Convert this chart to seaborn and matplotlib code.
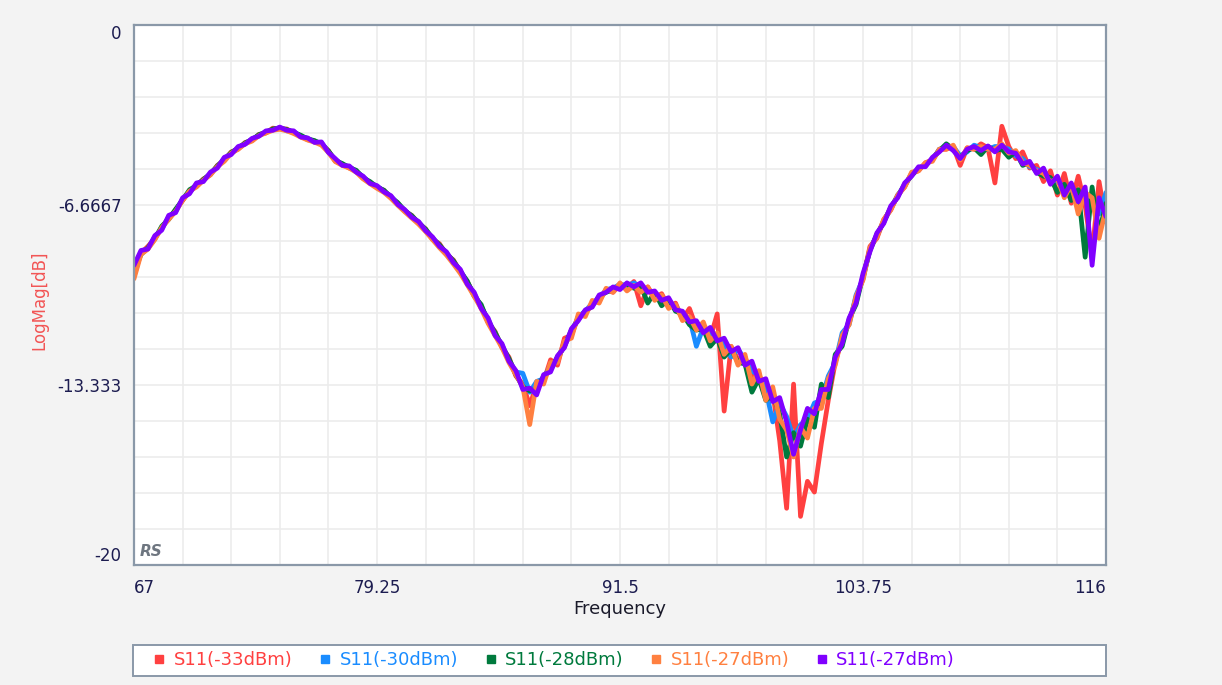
import matplotlib
matplotlib.use("Agg")
import matplotlib.pyplot as plt
from matplotlib.lines import Line2D
from matplotlib.patches import Rectangle
import numpy as np
import pandas as pd
import seaborn as sns

# Sweep: 67 .. 116 MHz, 141 points per trace.
freq = np.linspace(67, 116, 141)

s11_m33 = [
    -9.3, -8.45, -8.2, -7.9, -7.5, -7.15, -6.85, -6.5, -6.15, -5.95,
    -5.7, -5.55, -5.2, -5.0, -4.7, -4.6, -4.35, -4.28, -4.05, -4.0,
    -3.82, -3.85, -3.85, -4.0, -4.1, -4.25, -4.3, -4.4, -4.65, -5.05,
    -5.15, -5.3, -5.4, -5.68, -5.82, -6.02, -6.12, -6.4, -6.6, -6.9,
    -7.05, -7.35, -7.55, -7.95, -8.1, -8.5, -8.7, -9.15, -9.5, -10.0,
    -10.4, -11.0, -11.35, -11.95, -12.3, -13.0, -13.3, -14.1, -13.3, -13.2,
    -12.4, -12.6, -11.6, -11.5, -10.8, -10.7, -10.3, -10.2, -9.8, -9.9,
    -9.6, -9.75, -9.5, -10.4, -9.7, -10.1, -9.95, -10.45, -10.3, -10.9,
    -10.5, -11.2, -11.1, -11.6, -10.7, -14.3, -11.9, -12.4, -12.3, -13.0,
    -12.9, -13.8, -13.6, -15.4, -17.9, -13.3, -18.2, -16.9, -17.3, -15.5,
    -13.9, -12.5, -11.6, -11.0, -10.1, -9.4, -8.2, -7.9, -7.2, -6.85,
    -6.3, -6.0, -5.5, -5.4, -5.1, -5.0, -4.6, -4.6, -4.5, -5.2,
    -4.55, -4.6, -4.4, -4.55, -5.85, -3.75, -4.5, -4.95, -4.7, -5.3,
    -5.2, -5.8, -5.4, -6.3, -5.5, -6.6, -5.6, -6.7, -8.5, -5.8,
    -7.3,
]

s11_m30 = [
    -9.15, -8.4, -8.28, -7.85, -7.55, -7.1, -6.9, -6.45, -6.2, -5.9,
    -5.75, -5.5, -5.25, -4.95, -4.75, -4.55, -4.4, -4.22, -4.1, -3.95,
    -3.88, -3.8, -3.92, -3.95, -4.12, -4.2, -4.32, -4.36, -4.7, -4.98,
    -5.18, -5.25, -5.42, -5.62, -5.85, -5.97, -6.15, -6.35, -6.62, -6.86,
    -7.1, -7.3, -7.6, -7.88, -8.18, -8.45, -8.78, -9.1, -9.55, -9.95,
    -10.45, -10.9, -11.45, -11.85, -12.4, -12.85, -12.9, -13.6, -13.2, -13.1,
    -12.6, -12.4, -11.8, -11.4, -10.8, -10.6, -10.3, -10.15, -9.8, -9.75,
    -9.6, -9.65, -9.55, -9.7, -9.8, -10.0, -10.1, -10.25, -10.4, -10.8,
    -10.85, -11.9, -11.2, -11.5, -11.5, -11.9, -12.3, -12.0, -12.4, -12.8,
    -13.0, -13.5, -14.7, -14.0, -14.5, -15.3, -14.8, -14.6, -14.0, -13.9,
    -13.0, -12.5, -11.4, -11.1, -10.0, -9.4, -8.3, -7.8, -7.25, -6.8,
    -6.3, -5.95, -5.5, -5.35, -5.15, -5.0, -4.6, -4.55, -4.5, -4.85,
    -4.7, -4.45, -4.55, -4.6, -4.5, -4.5, -4.6, -4.85, -4.95, -5.25,
    -5.35, -5.45, -5.75, -5.8, -6.0, -6.1, -6.3, -6.4, -6.7, -7.0,
    -6.2,
]

s11_m28 = [
    -9.1, -8.5, -8.25, -7.92, -7.45, -7.2, -6.82, -6.48, -6.1, -5.95,
    -5.72, -5.52, -5.22, -5.0, -4.72, -4.57, -4.37, -4.25, -4.06, -3.98,
    -3.85, -3.82, -3.87, -3.98, -4.08, -4.22, -4.28, -4.42, -4.66, -5.02,
    -5.13, -5.28, -5.38, -5.66, -5.8, -6.0, -6.12, -6.38, -6.58, -6.88,
    -7.06, -7.33, -7.56, -7.9, -8.14, -8.46, -8.73, -9.12, -9.48, -10.05,
    -10.35, -11.0, -11.38, -11.9, -12.35, -12.95, -13.4, -13.55, -13.5, -13.0,
    -12.75, -12.3, -11.9, -11.3, -10.9, -10.6, -10.4, -10.05, -9.9, -9.8,
    -9.7, -9.6, -9.75, -9.65, -10.3, -9.9, -10.4, -10.15, -10.6, -10.7,
    -11.1, -11.3, -11.25, -11.9, -11.6, -12.3, -12.0, -12.5, -12.55, -13.6,
    -13.1, -13.9, -13.7, -14.4, -16.0, -15.1, -15.6, -14.6, -14.9, -13.3,
    -13.8, -12.2, -11.9, -10.9, -10.35, -9.3, -8.35, -7.75, -7.3, -6.75,
    -6.35, -5.9, -5.58, -5.3, -5.2, -4.95, -4.65, -4.4, -4.6, -4.9,
    -4.65, -4.55, -4.8, -4.5, -4.65, -4.6, -4.9, -4.7, -5.2, -5.1,
    -5.45, -5.6, -5.65, -6.2, -5.9, -6.5, -6.1, -8.6, -6.0, -7.7,
    -6.6,
]

s11_m27a = [
    -9.4, -8.5, -8.3, -7.95, -7.5, -7.2, -6.9, -6.5, -6.15, -6.0,
    -5.75, -5.55, -5.25, -5.05, -4.75, -4.6, -4.4, -4.3, -4.1, -4.0,
    -3.9, -3.86, -3.92, -4.02, -4.15, -4.26, -4.34, -4.45, -4.72, -5.06,
    -5.2, -5.3, -5.45, -5.7, -5.88, -6.05, -6.2, -6.42, -6.68, -6.92,
    -7.15, -7.38, -7.65, -7.95, -8.25, -8.52, -8.85, -9.2, -9.62, -10.05,
    -10.5, -11.05, -11.5, -11.95, -12.5, -12.95, -13.4, -14.8, -13.2, -13.3,
    -12.5, -12.5, -11.7, -11.6, -10.7, -10.8, -10.2, -10.3, -9.75, -9.9,
    -9.55, -9.85, -9.65, -9.9, -9.7, -10.2, -10.0, -10.5, -10.35, -10.95,
    -10.8, -11.3, -11.0, -11.7, -11.4, -12.2, -11.9, -12.6, -12.2, -13.3,
    -12.8, -13.9, -13.4, -14.6, -15.0, -16.0, -14.9, -15.3, -14.2, -14.2,
    -13.1, -12.6, -11.5, -11.1, -10.05, -9.45, -8.25, -7.85, -7.2, -6.85,
    -6.3, -6.0, -5.45, -5.4, -5.1, -5.05, -4.6, -4.6, -4.45, -5.0,
    -4.55, -4.6, -4.5, -4.6, -4.6, -4.4, -4.75, -4.65, -5.1, -5.2,
    -5.4, -5.5, -5.8, -5.7, -6.4, -5.9, -7.0, -6.2, -6.4, -7.9,
    -6.8,
]

s11_m27b = [
    -8.9, -8.35, -8.3, -7.8, -7.6, -7.05, -6.95, -6.4, -6.25, -5.85,
    -5.8, -5.45, -5.3, -4.9, -4.8, -4.5, -4.42, -4.2, -4.12, -3.92,
    -3.9, -3.78, -3.9, -3.92, -4.15, -4.18, -4.35, -4.33, -4.72, -4.95,
    -5.2, -5.22, -5.45, -5.6, -5.87, -5.95, -6.18, -6.32, -6.65, -6.84,
    -7.12, -7.28, -7.62, -7.85, -8.2, -8.4, -8.8, -9.05, -9.6, -9.9,
    -10.5, -10.85, -11.5, -11.8, -12.45, -12.8, -13.5, -13.45, -13.7, -12.95,
    -12.85, -12.25, -11.95, -11.25, -10.95, -10.55, -10.45, -10.0, -9.9, -9.7,
    -9.8, -9.55, -9.7, -9.55, -9.9, -9.85, -10.2, -10.1, -10.55, -10.6,
    -11.0, -10.95, -11.4, -11.2, -11.7, -11.6, -12.1, -11.95, -12.6, -12.45,
    -13.2, -13.1, -13.95, -13.8, -14.7, -15.9, -15.0, -14.2, -14.4, -13.5,
    -13.5, -12.3, -11.8, -10.85, -10.3, -9.2, -8.4, -7.7, -7.35, -6.7,
    -6.4, -5.85, -5.6, -5.25, -5.25, -4.9, -4.7, -4.45, -4.65, -4.95,
    -4.6, -4.5, -4.65, -4.48, -4.7, -4.45, -4.7, -4.75, -5.15, -5.05,
    -5.5, -5.3, -5.9, -5.6, -6.3, -5.85, -6.55, -6.0, -8.9, -6.4,
    -7.1,
]

trace_labels = ["S11(-33dBm)", "S11(-30dBm)", "S11(-28dBm)", "S11(-27dBm)", "S11(-27dBm)"]
trace_values = [s11_m33, s11_m30, s11_m28, s11_m27a, s11_m27b]
trace_colors = ["#ff4040", "#1a8cff", "#007a3d", "#ff8040", "#8000ff"]

x_ticks = [67, 79.25, 91.5, 103.75, 116]
x_ticklabels = ["67", "79.25", "91.5", "103.75", "116"]
y_ticks = [0, -20 / 3, -40 / 3, -20]
y_ticklabels = ["0", "-6.6667", "-13.333", "-20"]

sns.set_style("white")
plt.rcParams["font.family"] = ["DejaVu Sans"]

fig = plt.figure(figsize=(12.22, 6.85), dpi=100, facecolor="#f3f3f3")
ax = fig.add_axes((134 / 1222, 120 / 685, 972 / 1222, 540 / 685))
ax.set_facecolor("white")

for lbl, vals, col in zip(trace_labels, trace_values, trace_colors):
    df = pd.DataFrame({"Frequency": freq, "LogMag": vals})
    sns.lineplot(data=df, x="Frequency", y="LogMag", color=col, linewidth=3.4,
                 ax=ax, legend=False, estimator=None, sort=False)

ax.set_xlim(67, 116)
ax.set_ylim(-20, 0)

ax.set_xticks(x_ticks)
ax.set_xticklabels(x_ticklabels)
ax.set_xticks(np.arange(67, 116.01, 2.45), minor=True)
ax.set_yticks(y_ticks)
ax.set_yticklabels(y_ticklabels)
ax.set_yticks(np.linspace(-20, 0, 16), minor=True)

ax.grid(True, which="both", color="#ececec", linewidth=1.2)
ax.set_axisbelow(True)
ax.tick_params(axis="both", which="both", length=0, labelsize=12, labelcolor="#1c1c50")
ax.tick_params(axis="x", pad=10)
ax.tick_params(axis="y", pad=9)

xl = ax.get_xticklabels()
xl[0].set_horizontalalignment("left")
xl[-1].set_horizontalalignment("right")
yl = ax.get_yticklabels()
yl[0].set_verticalalignment("top")
yl[-1].set_verticalalignment("bottom")

for sp in ax.spines.values():
    sp.set_color("#8a98a8")
    sp.set_linewidth(1.6)

ax.set_xlabel("Frequency", fontsize=13, color="#1a1a2a", labelpad=2)
ax.set_ylabel("LogMag[dB]", fontsize=12, color="#f25555")
ax.yaxis.set_label_coords(-0.088, 0.49)

ax.text(0.006, 0.012, "RS", transform=ax.transAxes, fontsize=11, fontstyle="italic",
        fontweight="bold", color="#6e7680", ha="left", va="bottom")

# legend box below the plot
fig.patches.append(Rectangle((133 / 1222, 9 / 685), 973 / 1222, 31 / 685,
                             transform=fig.transFigure, facecolor="white",
                             edgecolor="#8a98a8", linewidth=1.4))
handles = [Line2D([], [], marker="s", linestyle="none", markersize=6, color=c)
           for c in trace_colors]
fig.legend(handles, trace_labels, loc="center left", bbox_to_anchor=(136 / 1222, 25 / 685),
           ncol=5, frameon=False, fontsize=13, labelcolor=trace_colors,
           handletextpad=0.4, columnspacing=1.4, handlelength=0.8)

fig.savefig("out.png", dpi=100, facecolor=fig.get_facecolor())
